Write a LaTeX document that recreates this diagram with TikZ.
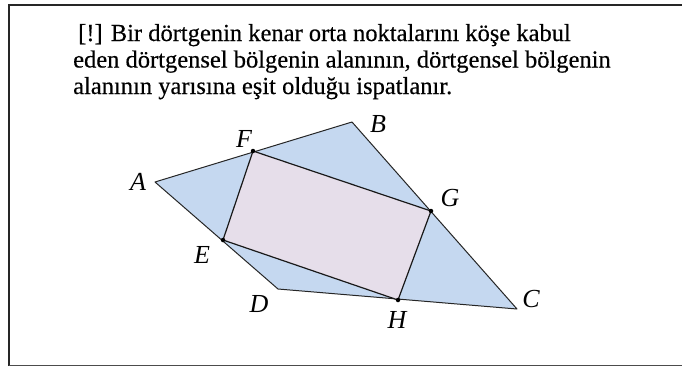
\documentclass[tikz,border=0pt]{standalone}
\usepackage{fontspec}
\setmainfont{Liberation Serif}
\begin{document}
\begin{tikzpicture}[x=1pt,y=-1pt,
  txt/.style={anchor=base west,inner sep=0pt,font=\fontsize{24.5}{26}\selectfont\addfontfeature{FakeBold=0.4}},
  lbl/.style={inner sep=0pt,font=\fontsize{26}{28}\selectfont\itshape},
  dot/.style={circle,fill=black,inner sep=0pt,minimum size=4.5pt}]
\useasboundingbox (0,0) rectangle (682,367);
\draw[line width=2pt,black!85] (8.5,366) -- (8.5,4.5) -- (682,4.5);
\draw[line width=1.6pt,black!70] (8.5,365.5) -- (682,365.5);
\node[txt] (t1) at (78,41) {[!] Bir dörtgenin kenar orta noktalarını köşe kabul};
\node[txt] (t2) at (73,67.5) {eden dörtgensel bölgenin alanının, dörtgensel bölgenin};
\node[txt] (t3) at (73,94) {alanının yarısına eşit olduğu ispatlanır.};
\coordinate (A) at (155,182);
\coordinate (B) at (352,122);
\coordinate (C) at (517,309);
\coordinate (D) at (278,289);
\coordinate (E) at (223,240);
\coordinate (F) at (253,151);
\coordinate (G) at (431,211);
\coordinate (H) at (398,300);
\fill[fill={rgb,255:red,197;green,216;blue,240}] (A) -- (B) -- (C) -- (D) -- cycle;
\draw[line width=1pt,black!85,line join=round] (A) -- (B) -- (C) -- (D) -- cycle;
\filldraw[fill={rgb,255:red,230;green,222;blue,234},draw=black!90,line width=1.2pt,line join=round] (E) -- (F) -- (G) -- (H) -- cycle;
\foreach \p in {E,F,G,H} \node[dot] (d\p) at (\p) {};
\node[lbl] (lA) at (138,182) {A};
\node[lbl] (lB) at (378,124) {B};
\node[lbl] (lC) at (531,299) {C};
\node[lbl] (lD) at (259,304) {D};
\node[lbl] (lE) at (202,255) {E};
\node[lbl] (lF) at (244,139) {F};
\node[lbl] (lG) at (450,198) {G};
\node[lbl] (lH) at (397,320) {H};
\end{tikzpicture}
\end{document}
